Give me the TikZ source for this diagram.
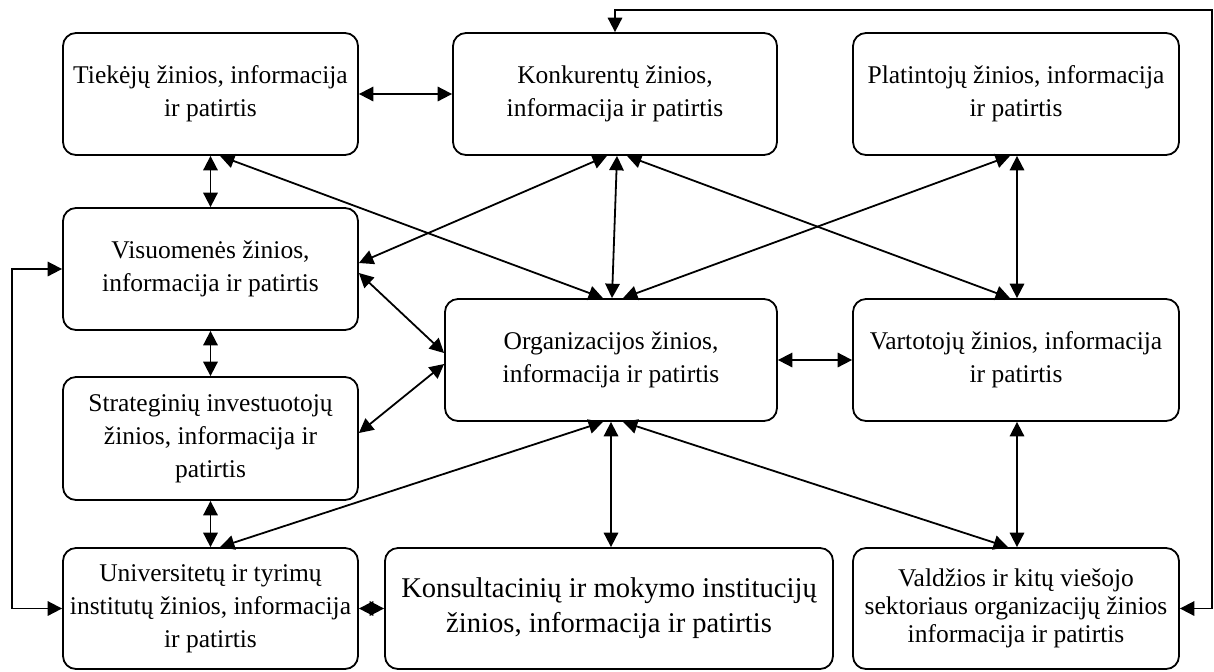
\documentclass[tikz,border=0pt]{standalone}
\usepackage{fontspec}
\setmainfont{Liberation Serif}
\usetikzlibrary{arrows.meta,calc}
\begin{document}
\begin{tikzpicture}[x=0.5pt,y=-0.5pt,
  box/.style={draw,line width=0.9pt,rounded corners=6.5pt,inner sep=0pt,
    align=center,minimum height=61pt,font=\fontsize{12.75}{16.5}\selectfont},
  narrowbox/.style={box,minimum width=147.5pt},
  widebox/.style={box,minimum width=163pt},
  link/.style={line width=0.9pt,{Triangle[length=7.2pt,width=7.2pt]}-{Triangle[length=7.2pt,width=7.2pt]}}]
\useasboundingbox (0,0) rectangle (1214,671);

% knowledge sources
\node[narrowbox] (T) at (210.5,94) {Tiekėjų žinios, informacija\\ir patirtis};
\node[box,minimum width=162pt] (K) at (615,94) {Konkurentų žinios,\\informacija ir patirtis};
\node[widebox] (P) at (1016,94) {Platintojų žinios, informacija\\ir patirtis};
\node[narrowbox] (V) at (210.5,269) {Visuomenės žinios,\\informacija ir patirtis};
\node[box,minimum width=166pt] (O) at (611,360) {Organizacijos žinios,\\informacija ir patirtis};
\node[widebox] (Va) at (1016,360) {Vartotojų žinios, informacija\\ir patirtis};
\node[narrowbox,minimum height=61.5pt] (S) at (210.5,438.5) {Strateginių investuotojų\\žinios, informacija ir\\patirtis};
\node[narrowbox,minimum height=60.5pt] (U) at (210.5,608.5) {Universitetų ir tyrimų\\institutų žinios, informacija\\ir patirtis};
\node[box,minimum width=224pt,minimum height=60.5pt,font=\fontsize{14.3}{17.5}\selectfont] (Ko) at (609,608.5) {Konsultacinių ir mokymo institucijų\\žinios, informacija ir patirtis};
\node[widebox,minimum height=60.5pt,font=\fontsize{12.75}{14}\selectfont] (Vd) at (1016,608.5) {Valdžios ir kitų viešojo\\sektoriaus organizacijų žinios\\informacija ir patirtis};

% turning points of the outer feedback loops
\coordinate (lb) at (12,0);
\coordinate (tr) at (1212,10);

% horizontal and vertical links
\draw[link] (T.east) -- (K.west);
\draw[link] (O.east) -- (Va.west);
\draw[link] (U.east) -- (Ko.west);
\draw[link] (T.south) -- (V.north);
\draw[link] (V.south) -- (S.north);
\draw[link] (S.south) -- (U.north);
\draw[link] ([xshift=0.5pt]P.south) -- ([xshift=0.5pt]Va.north);
\draw[link] ([xshift=0.5pt]Va.south) -- ([xshift=0.5pt]Vd.north);
\draw[link] ([xshift=1pt]K.south) -- ([xshift=0.5pt]O.north);
\draw[link] (O.south) -- ([xshift=1pt]Ko.north);

% diagonal links
\draw[link] ([xshift=4.75pt]T.south) -- ([xshift=-4pt]O.north);
\draw[link] ([xshift=-4pt]K.south) -- ([yshift=3pt]V.east);
\draw[link] ([xshift=6pt]K.south) -- ([xshift=-3pt]Va.north);
\draw[link] ([xshift=-3pt]P.south) -- ([xshift=6pt]O.north);
\draw[link] ([yshift=-2pt]V.east) -- ([yshift=3.5pt]O.west);
\draw[link] ([yshift=2.75pt]S.east) -- ([yshift=-2pt]O.west);
\draw[link] ([xshift=4.75pt]U.north) -- ([xshift=-4pt]O.south);
\draw[link] ([xshift=6pt]O.south) -- ([xshift=-4pt]Vd.north);

% outer feedback loops
\draw[link] (V.west) -- (V.west -| lb) |- (U.west);
\draw[link] (K.north) |- (tr) |- (Vd.east);
\end{tikzpicture}
\end{document}
